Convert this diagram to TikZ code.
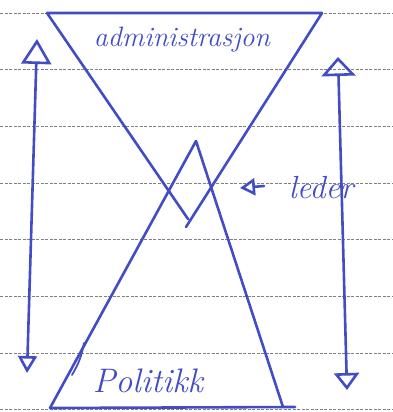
\documentclass[tikz,border=0pt]{standalone}
\usetikzlibrary{arrows.meta}
\definecolor{ink}{RGB}{66,76,196}
\begin{document}
\begin{tikzpicture}[x=1pt,y=-1pt,
  inkline/.style={draw=ink,line width=2.6pt,line cap=round,line join=round},
  rule/.style={draw=black!50,line width=0.6pt,dash pattern=on 3pt off 1.5pt},
  handtext/.style={text=ink,font=\itshape,inner sep=0pt}]
\useasboundingbox (0,0) rectangle (392,412);
% ruled paper
\foreach \y in {13,69.5,126,183,239.5,296,353,409}
  \draw[rule] (0,\y) -- (392,\y);
% top (inverted) triangle
\coordinate (tl) at (47,13);
\coordinate (tr) at (322,13);
\coordinate (tipl) at (188,219);
\coordinate (tipr) at (186,227);
\draw[inkline] (tipl) -- (tl) -- (tr) -- (tipr);
% bottom triangle
\coordinate (apex) at (196,141);
\coordinate (bl) at (50,408);
\coordinate (br) at (283,407);
\coordinate (bext) at (295,407);
\draw[inkline] (bl) -- (apex) -- (br);
\draw[inkline] (bl) -- (bext);
\coordinate (m1) at (84,343);
\coordinate (m2) at (72,375);
\draw[inkline,line width=1.8pt] (m1) to[bend left=10] (m2);
% labels
\node[handtext,font=\itshape\fontsize{28}{30}\selectfont] (adm) at (182,40) {administrasjon};
\node[handtext,font=\itshape\fontsize{34}{36}\selectfont] (pol) at (148,381) {Politikk};
\node[handtext,font=\itshape\fontsize{32}{34}\selectfont] (led) at (321,188) {leder};
% side arrows
\coordinate (lb) at (27,373);
\coordinate (lt) at (37,39);
\draw[inkline,{Triangle[open,length=17pt,width=19pt]}-{Triangle[open,length=25pt,width=30pt]}] (lb) -- (lt);
\coordinate (rb) at (347,390);
\coordinate (rt) at (338,57);
\draw[inkline,{Triangle[open,length=17pt,width=25pt]}-{Triangle[open,length=19pt,width=34pt]}] (rb) -- (rt);
% leder arrow
\coordinate (lp) at (240,188);
\coordinate (lq) at (264,186);
\draw[inkline,-{Triangle[open,length=15pt,width=17pt]}] (lq) -- (lp);
\end{tikzpicture}
\end{document}
